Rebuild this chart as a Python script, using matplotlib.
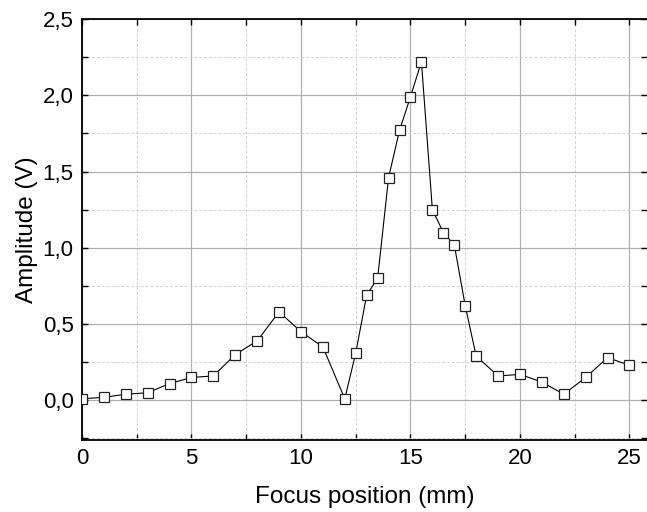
import matplotlib
matplotlib.use("Agg")
import matplotlib.pyplot as plt
from matplotlib.ticker import MultipleLocator, FuncFormatter

plt.rcParams["font.family"] = ["Liberation Sans", "DejaVu Sans"]

focus_mm = [0, 1, 2, 3, 4, 5, 6, 7, 8, 9, 10, 11, 12, 12.5, 13, 13.5, 14, 14.5,
            15, 15.5, 16, 16.5, 17, 17.5, 18, 19, 20, 21, 22, 23, 24, 25]
amplitude_v = [0.01, 0.02, 0.04, 0.05, 0.11, 0.15, 0.16, 0.30, 0.39, 0.58, 0.45,
               0.35, 0.01, 0.31, 0.69, 0.80, 1.46, 1.77, 1.99, 2.22, 1.25, 1.10,
               1.02, 0.62, 0.29, 0.16, 0.17, 0.12, 0.04, 0.15, 0.28, 0.23]


def main():
    fig = plt.figure(figsize=(6.47, 5.12), dpi=100)
    ax = fig.add_axes([0.1267, 0.1406, 0.8733, 0.8224])

    ax.plot(focus_mm, amplitude_v, color="black", lw=0.8, marker="s",
            markersize=7.5, markerfacecolor="white", markeredgecolor="#222222",
            markeredgewidth=0.9, zorder=3)

    ax.set_xlim(0, 25.8)
    ax.set_ylim(-0.26, 2.5)

    ax.xaxis.set_major_locator(MultipleLocator(5))
    ax.xaxis.set_minor_locator(MultipleLocator(2.5))
    ax.yaxis.set_major_locator(MultipleLocator(0.5))
    ax.yaxis.set_minor_locator(MultipleLocator(0.25))
    ax.yaxis.set_major_formatter(FuncFormatter(lambda v, p: f"{v:.1f}".replace(".", ",")))

    ax.grid(True, which="major", color="#b0b0b0", lw=0.9)
    ax.grid(True, which="minor", color="#d0d0d0", lw=0.7, ls=(0, (3, 2)))
    ax.set_axisbelow(True)

    ax.tick_params(which="both", direction="in", top=True, right=True,
                   length=4, width=1.0, labelsize=16, pad=6)
    for side in ["left", "bottom", "top"]:
        ax.spines[side].set_linewidth(1.3)
    ax.spines["right"].set_visible(False)

    ax.set_xlabel("Focus position (mm)", fontsize=17.5, labelpad=12)
    ax.set_ylabel("Amplitude (V)", fontsize=17.5, labelpad=3)

    fig.savefig("out.png", dpi=100)


if __name__ == "__main__":
    main()
